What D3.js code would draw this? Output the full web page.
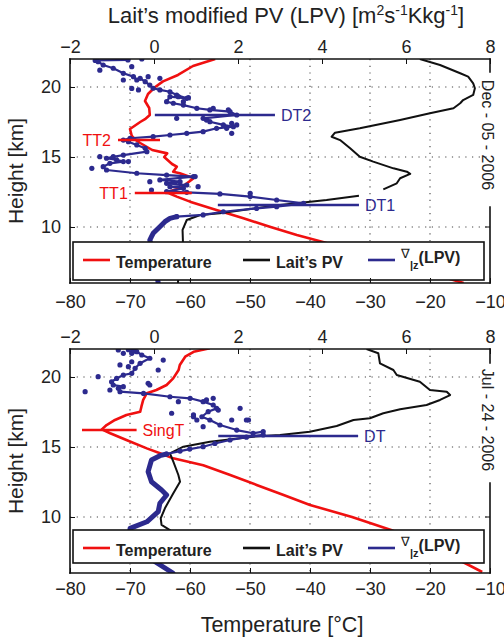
<!DOCTYPE html>
<html>
<head>
<meta charset="utf-8">
<script src="https://cdn.jsdelivr.net/npm/d3@7"></script>
<style>
	body { margin: 0; background: #fff; }
	svg { display: block; font-family: "Liberation Sans", Arial, Helvetica, sans-serif; }
</style>
</head>
<body>
<div id="graph"></div>
<script>
// every profile point is [height km, value]

// Dec 05 2006
var tempDec = [[22.0,-55.8],[21.5,-59.5],[20.86,-62],[20.4,-64.5],[20.0,-65.8],[19.5,-67],[19.0,-67.5],[18.5,-66.8],[18.0,-66.7],
	[17.7,-67.5],[17.5,-68.3],[17.0,-70],[16.5,-69.7],[16.2,-69],[16.0,-68.3],[15.5,-66.3],[15.26,-63.8],[15.0,-64.3],[14.5,-63],
	[14.31,-62.2],[13.95,-62.8],[13.84,-61.7],[13.48,-59.4],[13.12,-60.5],[12.76,-61.7],[12.48,-63.9],[12.17,-62.2],[11.81,-60],
	[11.21,-55.6],[10.62,-51.1],[10.02,-46.7],[9.43,-42.2],[8.95,-38],[8.0,-30.4],[7.0,-22.4],[6.0,-14.4]];

var pvDec = [[22.0,6.33],[21.57,6.81],[20.98,7.29],[20.74,7.48],[20.26,7.6],[19.91,7.64],[19.43,7.6],[19.07,7.36],[18.84,7.29],
	[18.48,7.13],[18.12,6.57],[17.64,5.86],[17.05,4.9],[16.74,4.31],[16.45,4.23],[16.21,4.43],[15.62,4.67],[15.02,4.9],[14.67,5.22],
	[14.19,5.7],[13.95,6.02],[13.79,6.1],[13.48,5.86],[13.12,5.78],[12.69,5.46],[12.5,null],[12.24,4.88],[11.93,4.11],[11.57,3.0],
	[10.98,1.57],[10.86,1.1],[10.5,0.78],[9.79,0.68],[8.86,0.69],[8.0,0.62],[6.0,0.57]];

var gradDec = [[21.93,-0.62],[21.9,-1.4],[21.81,-1.33],[21.57,-1.21],[21.34,-0.97],[20.98,-0.73],[20.74,-0.49],[20.5,-0.41],
	[20.62,-0.33],[20.38,-0.21],[20.14,-0.10],[19.91,-0.02],[19.79,0.14],[19.66,0.38],[19.43,0.54],[19.19,0.78],[19.31,0.38],
	[18.95,0.30],[18.84,0.46],[18.71,0.70],[18.48,1.02],[18.36,1.33],[18.24,1.81],[18.0,1.97],[17.76,1.17],[17.52,1.33],[17.29,1.65],
	[17.16,1.89],[17.05,1.49],[16.81,1.17],[16.69,0.78],[16.57,0.38],[16.45,-0.02],[16.34,-0.57],[16.21,-0.73],[16.09,-0.61],
	[15.86,-0.41],[15.62,-0.21],[15.38,-0.17],[15.14,-0.73],[15.02,-0.97],[14.91,-1.13],[14.79,-0.89],[14.67,-0.73],[14.55,-1.05],
	[14.31,-1.21],[14.07,-1.13],[13.84,-0.41],[13.71,0.30],[13.6,0.94],[13.36,0.14],[13.24,0.62],[13.12,0.30],[13.0,0.78],
	[12.88,0.38],[12.76,0.70],[12.52,0.30],[12.48,0.78],[12.36,1.57],[12.17,2.29],[11.93,2.92],[11.69,3.56],[11.45,2.92],
	[11.33,2.44],[11.09,1.65],[10.86,1.17],[10.74,0.54]];
var gradDecThick = [[10.74,0.54],[10.62,0.38],[10.38,0.26],[10.02,0.14],[9.55,-0.02],[9.31,-0.06],[9.07,-0.10],[8.0,0.0],[6.0,0.1]];
var gradDecDots = [[22.0,-0.29],[21.2,-1.29],[21.45,-0.53],[20.74,-0.14],[20.62,0.14],[19.9,-0.53],[20.5,-0.73],[19.79,-0.37],
	[19.31,0.58],[19.24,0.82],[18.95,0.70],[17.76,0.54],[18.48,1.41],[18.36,1.77],[17.64,1.25],[17.41,1.85],[17.29,1.97],
	[17.05,1.73],[16.69,1.85],[15.02,-1.29],[14.19,-1.48],[14.67,-0.61],[13.6,0.98],[13.24,-0.10],[12.88,1.05],[12.64,-0.06],
	[12.41,2.29]];
var markDec = [
	{name: "TT2", h: 16.21, from: -72.0, to: -65.0, axis: "t"},
	{name: "TT1", h: 12.43, from: -69.2, to: -59.7, axis: "t"},
	{name: "DT2", h: 18.0, from: 0.02, to: 2.88, axis: "pv"},
	{name: "DT1", h: 11.57, from: 1.52, to: 4.88, axis: "pv"}];

// Jul 24 2006
var tempJul = [[22.05,-56.7],[21.8,-59.4],[21.45,-60.8],[20.86,-61.7],[20.5,-61.9],[19.9,-62.8],[19.43,-63.9],[19.07,-65.6],
	[18.84,-67.2],[18.36,-67.8],[17.88,-68.1],[17.52,-68.3],[17.29,-70.6],[16.93,-72.5],[16.57,-73.9],[16.26,-74.7],[15.98,-73.3],
	[15.5,-70.6],[14.9,-67.2],[14.55,-65],[14.19,-62.8],[13.7,-57.8],[13.0,-53.3],[12.29,-48.9],[11.57,-44.4],[10.86,-40],
	[10.0,-33],[9.07,-26.5],[8.0,-20.5],[7.0,-15.5],[6.07,-11.3]];

var pvJul = [[22.0,5.06],[21.7,5.34],[20.98,5.38],[20.5,5.70],[20.14,5.78],[19.66,6.33],[19.07,6.57],[18.95,6.97],[18.71,7.05],
	[18.36,6.81],[18.0,6.49],[17.69,5.86],[17.41,5.46],[17.05,5.14],[16.93,4.75],[16.5,4.35],[16.09,3.71],[15.86,3.0],[15.74,2.36],
	[15.38,1.33],[15.02,0.70],[14.55,0.38],[13.95,0.46],[13.0,0.58],[12.52,0.62],[11.69,0.46],[10.62,0.26],[9.91,0.16],[9.43,0.18],
	[9.07,0.38],[8.5,0.5]];

var gradJul = [[21.95,-0.61],[21.69,-0.53],[21.81,-0.41],[21.57,-0.29],[21.34,-0.10],[20.98,-0.33],[20.62,-0.45],[20.26,-0.53],
	[20.14,-0.73],[19.9,-0.89],[19.66,-1.01],[19.43,-0.97],[19.31,-0.73],[19.19,-0.85],[18.95,-0.81],[18.83,-0.25],[18.59,0.38],
	[18.48,0.86],[18.24,1.17],[18.0,1.41],[17.76,1.49],[17.52,1.29],[17.16,1.14],[16.93,1.33],[16.57,1.57],[16.21,1.97],
	[15.98,2.36],[16.1,2.6],[15.86,2.6],[15.7,2.2],[15.5,1.81],[15.25,1.45],[15.02,1.17],[14.85,0.85],[14.71,0.62],[14.5,0.3]];
var gradJulThick = [[14.5,0.3],[14.38,0.14],[14.07,-0.06],[13.24,-0.14],[12.52,-0.06],[11.93,0.18],[11.57,0.30],[10.98,0.14],
	[10.38,0.10],[9.66,-0.17],[9.19,-0.57],[8.0,-0.6],[6.0,0.45]];
var gradJulDots = [[21.93,-0.85],[21.69,-0.73],[21.93,-0.49],[21.09,-0.53],[20.86,-0.81],[20.74,-0.61],[21.21,0.22],[20.5,0.1],
	[20.02,-1.33],[18.95,-1.64],[19.07,-1.05],[19.55,-0.14],[19.43,-0.1],[17.41,0.42],[18.24,0.58],[17.29,0.94],[18.48,1.41],
	[16.93,1.02],[16.93,1.85],[18.36,1.25],[17.64,1.53],[16.93,2.25],[17.76,2.05],[16.93,2.2],[17.16,0.94],[16.45,1.17]];
var markJul = [
	{name: "SingT", h: 16.21, from: -78.0, to: -68.9, axis: "t"},
	{name: "DT", h: 15.79, from: 1.53, to: 4.86, axis: "pv"}];

var tempTicks = [-80, -70, -60, -50, -40, -30, -20, -10],
	pvTicks = [-2, 0, 2, 4, 6, 8],
	heightTicks = [10, 15, 20];

var W = 504, H = 641,
	plot = {left: 70, right: 490},
	red = "#f01010", blue = "#2c2a8e", black = "#111";

var xT = d3.scaleLinear().domain([-80, -10]).range([plot.left, plot.right]),
	xP = d3.scaleLinear().domain([-2, 8]).range([plot.left, plot.right]);

var panels = [
	{id: "dec", top: 59, bottom: 283, temp: tempDec, pv: pvDec, grad: gradDec, thick: gradDecThick, dots: gradDecDots,
		marks: markDec, date: "Dec - 05 - 2006", dateMid: 135, gap: [72, 207], legendTop: 242, legendH: 38, labelPad: 12},
	{id: "jul", top: 349, bottom: 573, temp: tempJul, pv: pvJul, grad: gradJul, thick: gradJulThick, dots: gradJulDots,
		marks: markJul, date: "Jul - 24 - 2006", dateMid: 420, gap: [363, 483], legendTop: 530, legendH: 33, labelPad: 9}
];

var svg = d3.select("#graph").append("svg")
	.attr("width", W)
	.attr("height", H);

svg.append("rect").attr("width", W).attr("height", H).attr("fill", "#fff");

panels.forEach(drawPanel);

function drawPanel(p){
	var y = d3.scaleLinear().domain([6, 22]).range([p.bottom, p.top]);
	var g = svg.append("g").attr("class", "panel-" + p.id);

	g.append("clipPath").attr("id", "clip-" + p.id)
		.append("rect")
		.attr("x", plot.left).attr("y", p.top)
		.attr("width", plot.right - plot.left).attr("height", p.bottom - p.top);

	// dotted grid
	g.append("g").selectAll("line")
		.data(tempTicks.slice(1, -1)).enter()
		.append("line")
		.attr("x1", function(d){ return xT(d); })
		.attr("x2", function(d){ return xT(d); })
		.attr("y1", p.top).attr("y2", p.bottom)
		.attr("stroke", "#444").attr("stroke-width", 1.1).attr("stroke-dasharray", "1.2,5.5");
	g.append("g").selectAll("line")
		.data(heightTicks).enter()
		.append("line")
		.attr("x1", plot.left).attr("x2", plot.right)
		.attr("y1", function(d){ return y(d); })
		.attr("y2", function(d){ return y(d); })
		.attr("stroke", "#444").attr("stroke-width", 1.1).attr("stroke-dasharray", "1.2,5.5");

	var area = g.append("g").attr("clip-path", "url(#clip-" + p.id + ")");

	var lineT = d3.line().x(function(d){ return xT(d[1]); }).y(function(d){ return y(d[0]); }),
		lineP = d3.line().defined(function(d){ return d[1] != null; })
			.x(function(d){ return xP(d[1]); }).y(function(d){ return y(d[0]); });

	area.append("path").datum(p.temp)
		.attr("d", lineT).attr("fill", "none").attr("stroke", red).attr("stroke-width", 2.6)
		.attr("stroke-linejoin", "round");

	area.append("path").datum(p.pv)
		.attr("d", lineP).attr("fill", "none").attr("stroke", black).attr("stroke-width", 2)
		.attr("stroke-linejoin", "round");

	area.append("path").datum(p.thick)
		.attr("d", lineP).attr("fill", "none").attr("stroke", blue).attr("stroke-width", 5)
		.attr("stroke-linejoin", "round").attr("stroke-linecap", "round");

	area.append("path").datum(p.grad)
		.attr("d", lineP).attr("fill", "none").attr("stroke", blue).attr("stroke-width", 2.2)
		.attr("stroke-linejoin", "round");

	area.append("g").selectAll("circle")
		.data(p.grad.concat(p.dots)).enter()
		.append("circle")
		.attr("cx", function(d){ return xP(d[1]); })
		.attr("cy", function(d){ return y(d[0]); })
		.attr("r", 2.6)
		.attr("fill", blue);

	// tropopause markers
	var marks = g.append("g").selectAll("g")
		.data(p.marks).enter()
		.append("g");
	marks.append("line")
		.attr("x1", function(d){ return d.axis == "t" ? xT(d.from) : xP(d.from); })
		.attr("x2", function(d){ return d.axis == "t" ? xT(d.to) : xP(d.to); })
		.attr("y1", function(d){ return y(d.h); })
		.attr("y2", function(d){ return y(d.h); })
		.attr("stroke", function(d){ return d.axis == "t" ? red : blue; })
		.attr("stroke-width", 2.6);
	marks.append("text")
		.attr("x", function(d){
			if (d.name.indexOf("TT") == 0) return xT(d.from) - 7;
			return d.axis == "t" ? xT(d.to) + 6 : xP(d.to) + 6;
		})
		.attr("y", function(d){ return y(d.h); })
		.attr("dy", "0.36em")
		.attr("text-anchor", function(d){ return d.name.indexOf("TT") == 0 ? "end" : "start"; })
		.attr("fill", function(d){ return d.axis == "t" ? red : blue; })
		.attr("font-size", 16)
		.text(function(d){ return d.name; });

	drawLegend(g, p);

	// axes, ticks pointing inwards
	g.append("g")
		.attr("transform", "translate(0," + p.top + ")")
		.call(d3.axisTop(xP).tickValues(pvTicks).tickSizeInner(-5).tickSizeOuter(0).tickPadding(6))
		.call(styleAxis);
	g.append("g")
		.attr("transform", "translate(0," + p.bottom + ")")
		.call(d3.axisBottom(xT).tickValues(tempTicks).tickSizeInner(-5).tickSizeOuter(0).tickPadding(p.labelPad))
		.call(styleAxis);
	g.append("g")
		.attr("transform", "translate(" + plot.left + ",0)")
		.call(d3.axisLeft(y).tickValues(heightTicks).tickSizeInner(-5).tickSizeOuter(0).tickPadding(9))
		.call(styleAxis);
	g.append("g").selectAll("line")
		.data(heightTicks.filter(function(d){ return y(d) < p.gap[0] || y(d) > p.gap[1]; })).enter()
		.append("line")
		.attr("x1", plot.right).attr("x2", plot.right - 5)
		.attr("y1", function(d){ return y(d); })
		.attr("y2", function(d){ return y(d); })
		.attr("stroke", black);

	// frame, right side broken by the date
	var frame = [
		[plot.left, p.top, plot.right, p.top],
		[plot.left, p.bottom, plot.right, p.bottom],
		[plot.left, p.top, plot.left, p.bottom],
		[plot.right, p.top, plot.right, p.gap[0]],
		[plot.right, p.gap[1], plot.right, p.bottom]];
	g.append("g").selectAll("line")
		.data(frame).enter()
		.append("line")
		.attr("x1", function(d){ return d[0]; }).attr("y1", function(d){ return d[1]; })
		.attr("x2", function(d){ return d[2]; }).attr("y2", function(d){ return d[3]; })
		.attr("stroke", black).attr("stroke-width", 1.6).attr("stroke-linecap", "square");

	g.append("text")
		.attr("transform", "translate(482," + p.dateMid + ") rotate(90)")
		.attr("text-anchor", "middle")
		.attr("font-size", 16)
		.attr("fill", "#222")
		.text(p.date);

	g.append("text")
		.attr("transform", "translate(23," + (p.top + p.bottom) / 2 + ") rotate(-90)")
		.attr("text-anchor", "middle")
		.attr("font-size", 21)
		.attr("fill", "#222")
		.text("Height [km]");
}

function styleAxis(sel){
	sel.select(".domain").remove();
	sel.selectAll(".tick line").attr("stroke", black);
	sel.selectAll(".tick text").attr("font-size", 18).attr("fill", "#222")
		.attr("font-family", "Liberation Sans, Arial, sans-serif");
}

function drawLegend(g, p){
	var top = p.legendTop,
		lg = g.append("g").attr("class", "legend");
	lg.append("rect")
		.attr("x", 73).attr("y", top)
		.attr("width", 411).attr("height", p.legendH)
		.attr("fill", "#fff").attr("stroke", black).attr("stroke-width", 1.6);

	var items = [
		{x: 83, color: red, label: "Temperature"},
		{x: 243, color: black, label: "Lait\u2019s PV"},
		{x: 368, color: blue, label: null}];
	lg.selectAll("line.key")
		.data(items).enter()
		.append("line")
		.attr("class", "key")
		.attr("x1", function(d){ return d.x; })
		.attr("x2", function(d){ return d.x + 27; })
		.attr("y1", top + 18).attr("y2", top + 18)
		.attr("stroke", function(d){ return d.color; })
		.attr("stroke-width", 2.6);
	lg.selectAll("text.key")
		.data(items.filter(function(d){ return d.label; })).enter()
		.append("text")
		.attr("class", "key")
		.attr("x", function(d){ return d.x + 33; })
		.attr("y", top + 25.5)
		.attr("font-size", 16).attr("font-weight", "bold").attr("fill", "#222")
		.text(function(d){ return d.label; });

	var nab = lg.append("text")
		.attr("x", 401).attr("y", top + 21)
		.attr("fill", "#222");
	nab.append("tspan").attr("dy", -5).attr("font-size", 13).text("\u2207");
	nab.append("tspan").attr("dy", 11).attr("font-size", 11).attr("font-weight", "bold").text("|z");
	nab.append("tspan").attr("dy", -6).attr("font-size", 16).attr("font-weight", "bold").text("(LPV)");
}

// titles
var titleParts = [
	{t: "Lait\u2019s modified PV (LPV) [m"}, {t: "2", sup: true}, {t: "s"}, {t: "-1", sup: true},
	{t: "Kkg"}, {t: "-1", sup: true}, {t: "]"}];
var title = svg.append("text")
	.attr("x", 286).attr("y", 23)
	.attr("text-anchor", "middle")
	.attr("font-size", 22)
	.attr("fill", "#222");
var raised = false;
titleParts.forEach(function(d){
	var dy = 0;
	if (d.sup && !raised) dy = -8;
	if (!d.sup && raised) dy = 8;
	raised = !!d.sup;
	title.append("tspan").attr("dy", dy).attr("font-size", d.sup ? 14 : 22).text(d.t);
});

svg.append("text")
	.attr("x", 282).attr("y", 632)
	.attr("text-anchor", "middle")
	.attr("font-size", 21.5)
	.attr("fill", "#222")
	.text("Temperature [\u00b0C]");
</script>
</body>
</html>
